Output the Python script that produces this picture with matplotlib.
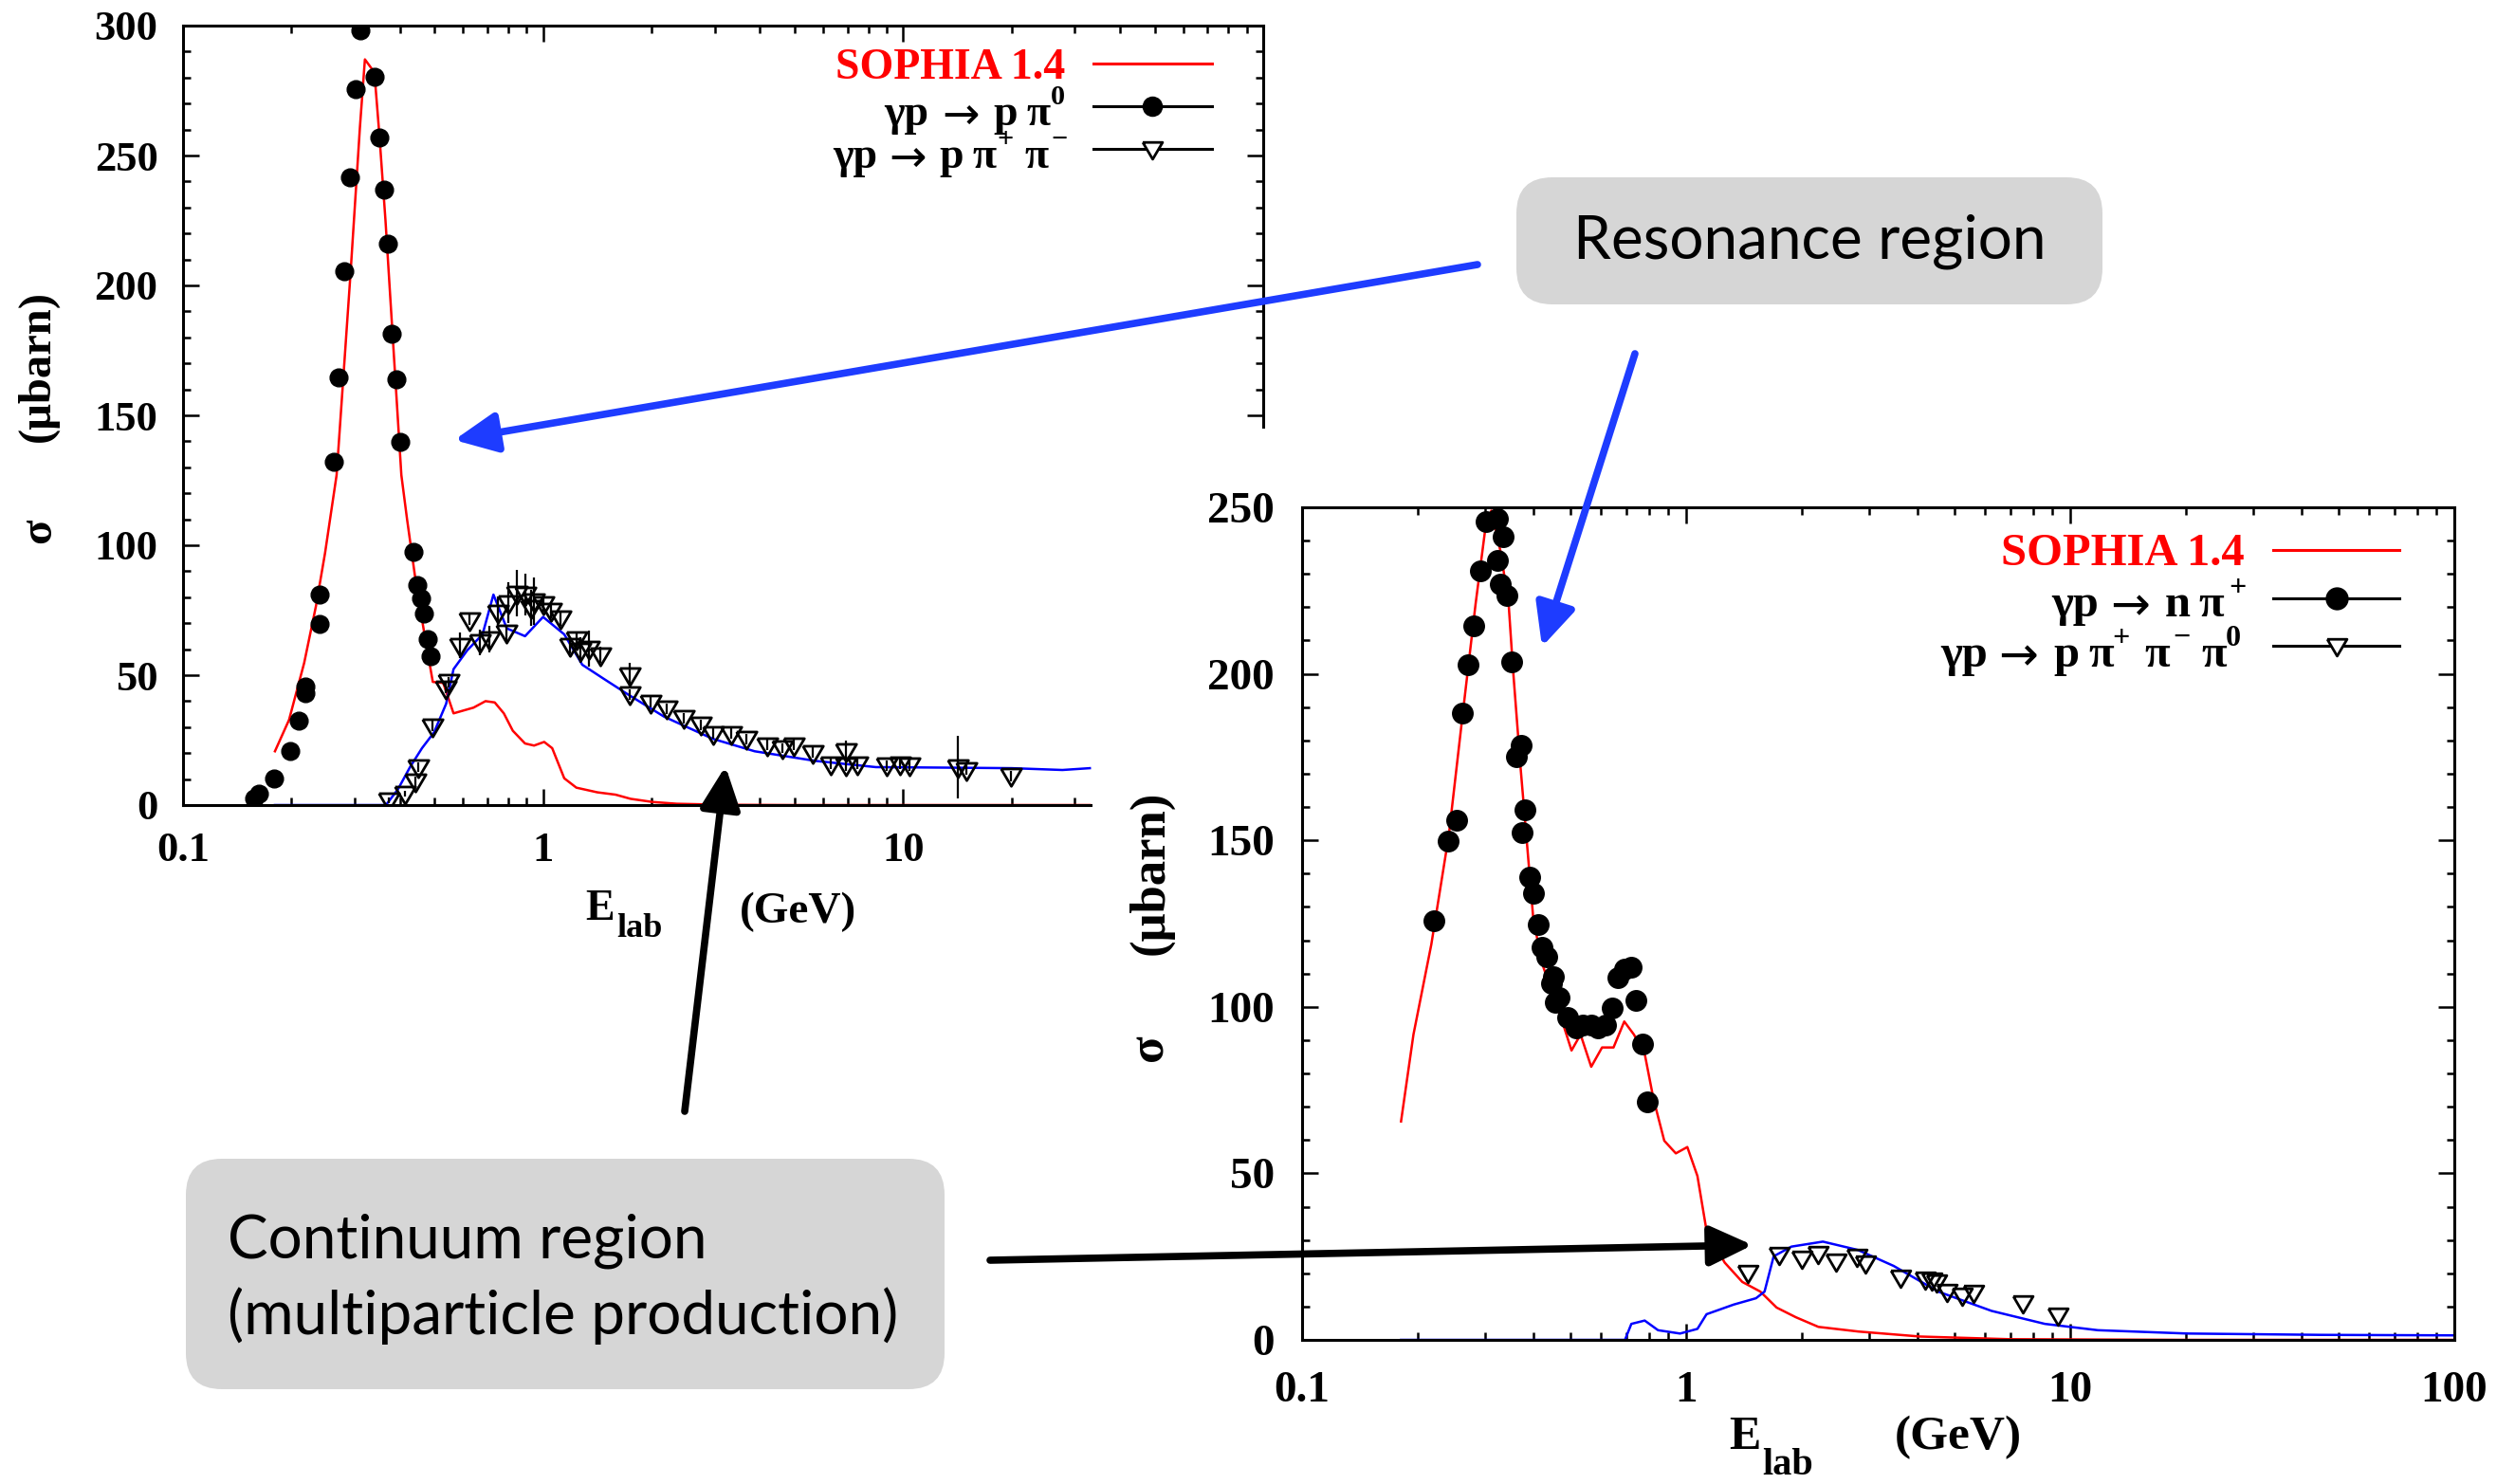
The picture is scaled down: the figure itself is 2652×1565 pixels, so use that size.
import matplotlib
matplotlib.use('Agg')
import matplotlib.pyplot as plt
import numpy as np
from matplotlib.patches import FancyBboxPatch, FancyArrowPatch, Rectangle
from matplotlib.lines import Line2D
from matplotlib.ticker import MultipleLocator, LogLocator, NullFormatter
from matplotlib.transforms import Affine2D

# ---- left panel: gamma p -> p pi0 and gamma p -> p pi+ pi- ----
sophia_ppi0_E = [0.180, 0.197, 0.217, 0.234, 0.248, 0.267, 0.292, 0.310, 0.320, 0.340, 0.351, 0.365,
                 0.384, 0.404, 0.419, 0.444, 0.470, 0.494, 0.528, 0.564, 0.641, 0.692, 0.734, 0.778,
                 0.824, 0.891, 0.944, 1.007, 1.06, 1.145, 1.237, 1.415, 1.59, 1.75, 2.01, 2.35, 3.19,
                 5.0, 10.0, 20.0, 33.0]
sophia_ppi0_xs = [20.7, 32.8, 54.7, 76.6, 97, 127, 205, 261, 287, 282, 258, 225,
                  176, 127, 110, 85, 64.5, 47.4, 47, 35.3, 37.5, 40, 39.5, 35.3,
                  28.6, 23.7, 22.9, 24.3, 21.9, 10.3, 6.7, 4.9, 4.0, 2.4, 1.2, 0.5, 0.1,
                  0, 0, 0, 0]
sophia_ppipi_E = [0.180, 0.366, 0.395, 0.427, 0.461, 0.498, 0.538, 0.564, 0.616, 0.679, 0.728, 0.793,
                  0.891, 1.0, 1.145, 1.285, 1.47, 1.72, 2.17, 2.96, 3.87, 5.70, 8.4, 13.3, 20.0, 27.7, 33.0]
sophia_ppipi_xs = [0, 0, 6, 14.6, 21.9, 28, 39, 52.3, 59.6, 65.7, 81, 68,
                   65, 72.4, 65.7, 54, 48.7, 42.6, 34, 25.5, 20.7, 17, 14.6, 14.4, 14.2, 13.5, 14.2]
data_ppi0_E = [0.158, 0.162, 0.179, 0.198, 0.210, 0.218, 0.219, 0.239, 0.239, 0.262, 0.270, 0.281,
               0.290, 0.301, 0.310, 0.341, 0.351, 0.361, 0.371, 0.380, 0.392, 0.401, 0.436, 0.447,
               0.458, 0.467, 0.478, 0.487]
data_ppi0_xs = [2.5, 4.5, 10.2, 20.7, 32.5, 43.2, 45.5, 69.8, 80.9, 132.2, 164.7, 205.6,
                241.5, 275.4, 298, 280.4, 257, 237, 216, 181.5, 163.9, 139.8, 97.3, 84.5,
                79.7, 73.6, 63.9, 57.2]
data_ppipi_E = [0.372, 0.414, 0.441, 0.449, 0.494, 0.538, 0.545, 0.586, 0.623, 0.667, 0.711, 0.748,
                0.793, 0.802, 0.847, 0.891, 0.925, 0.944, 1.0, 1.05, 1.12, 1.19, 1.24, 1.27, 1.34,
                1.44, 1.74, 1.74, 1.99, 2.21, 2.46, 2.74, 2.96, 3.32, 3.66, 4.19, 4.61, 4.98, 5.60,
                6.29, 6.92, 6.92, 7.48, 9.0, 9.8, 10.4, 14.2, 15.0, 19.9]
data_ppipi_xs = [1.8, 4.3, 9, 14.6, 30.4, 45, 47.4, 61.4, 71.2, 62.7, 63.9, 74.2,
                 66.3, 77.9, 81.5, 80.9, 76, 78.5, 77.3, 74.8, 71.8, 61.4, 63.9, 59.6, 60.2,
                 57.8, 49.9, 42.6, 39.5, 37.1, 33.5, 31, 27.4, 27.4, 25.5, 23.1, 21.9, 23.1, 20.1,
                 15.8, 20.7, 15.2, 15.8, 15.2, 15.8, 15.2, 14.6, 13.5, 11.2]
data_ppipi_err = [1, 1, 2, 2, 2, 2, 2, 5, 2, 5, 5, 6,
                  3, 8, 9, 8, 7, 9, 3, 3, 3, 3, 3, 5, 7,
                  3, 5, 2, 2, 2, 2, 2, 2, 2, 2, 2, 2, 2, 2,
                  2, 4, 2, 2, 2, 2, 2, 12, 2, 2]

# ---- right panel: gamma p -> n pi+ and gamma p -> p pi+ pi- pi0 ----
sophia_npip_E = [0.181, 0.195, 0.217, 0.241, 0.261, 0.283, 0.299, 0.311, 0.329, 0.345, 0.354, 0.370,
                 0.386, 0.400, 0.422, 0.457, 0.482, 0.503, 0.531, 0.566, 0.604, 0.647, 0.690, 0.731,
                 0.780, 0.822, 0.877, 0.940, 1.007, 1.07, 1.13, 1.26, 1.40, 1.56, 1.72, 1.93, 2.21,
                 2.81, 4.07, 6.95, 20.0, 100.0]
sophia_npip_xs = [65.6, 91.7, 118.7, 151.5, 186.3, 221, 242.3, 249, 236.5, 221, 201.7, 172.8,
                  147.7, 126.4, 112.9, 101.4, 93.6, 86.9, 91.7, 82, 87.8, 87.8, 95.6, 91.7,
                  85.9, 72.4, 59.8, 56, 57.9, 49.2, 32.8, 23.2, 17.4, 14.5, 9.7, 6.8, 3.9,
                  2.5, 1.0, 0.2, 0, 0]
sophia_3pi_E = [0.181, 0.693, 0.720, 0.780, 0.845, 0.964, 1.07, 1.13, 1.33, 1.52, 1.60, 1.69,
                1.88, 2.27, 2.80, 3.47, 4.53, 6.24, 8.59, 11.8, 20.2, 44.9, 100]
sophia_3pi_xs = [0, 0, 4.8, 5.8, 2.9, 1.9, 3.3, 7.7, 10.6, 12.5, 14.5, 25.1,
                 28, 29.5, 27, 22.2, 14.5, 8.7, 4.8, 2.9, 1.9, 1.5, 1.35]
data_npip_E = [0.220, 0.240, 0.252, 0.261, 0.270, 0.280, 0.291, 0.302, 0.322, 0.323, 0.329, 0.334,
               0.341, 0.352, 0.362, 0.371, 0.375, 0.381, 0.392, 0.400, 0.411, 0.422, 0.433, 0.445,
               0.450, 0.457, 0.467, 0.490, 0.516, 0.537, 0.566, 0.590, 0.616, 0.640, 0.664, 0.693,
               0.720, 0.739, 0.768, 0.792]
data_npip_xs = [125.9, 149.8, 156, 188.2, 202.7, 214.3, 231, 245.8, 234, 246.5, 226.8, 241.3,
                223.4, 203.5, 175.1, 178.6, 152.3, 159.1, 139, 134.2, 124.7, 117.8, 114.9, 107.1,
                109.1, 101.4, 102.9, 96.9, 93.6, 94.6, 94.6, 93.6, 94.6, 99.6, 108.7, 111.4,
                112, 101.9, 88.8, 71.4]
data_3pi_E = [1.45, 1.75, 2.00, 2.21, 2.45, 2.78, 2.93, 3.62, 4.19, 4.37, 4.49, 4.78, 5.23, 5.61, 7.52, 9.30]
data_3pi_xs = [20.3, 25.5, 24.5, 26, 23.7, 25.1, 23.2, 18.7, 18.3, 17.8, 17.4, 14.5, 13.5, 14.1, 11.2, 7.3]

W, H = 2652, 1565
fig = plt.figure(figsize=(W / 100, H / 100), dpi=100)
# pixel coordinates measured from the top-left corner of the image
T = Affine2D().scale(1, -1).translate(0, H)

SERIF = ['Liberation Serif', 'DejaVu Serif']
SANS = 'Lato'
tri = [(-1, 0.7), (1, 0.7), (0, -1), (-1, 0.7)]


def px_axes(l, t, r, b):
    return fig.add_axes([l / W, 1 - b / H, (r - l) / W, (b - t) / H])


def setup(ax, ymax, fs, xpad, ypad, xlabels):
    ax.set_xscale('log')
    ax.set_xlim(0.1, 100)
    ax.set_ylim(0, ymax)
    ax.set_xticks([0.1, 1, 10, 100])
    ax.set_xticklabels(xlabels)
    ax.xaxis.set_minor_locator(LogLocator(base=10, subs=np.arange(2, 10)))
    ax.xaxis.set_minor_formatter(NullFormatter())
    ax.yaxis.set_major_locator(MultipleLocator(50))
    ax.yaxis.set_minor_locator(MultipleLocator(10))
    ax.tick_params(which='both', direction='in', top=True, right=True, width=1.8)
    ax.tick_params(which='major', length=12)
    ax.tick_params(which='minor', length=6)
    ax.tick_params(axis='x', which='major', pad=xpad)
    ax.tick_params(axis='y', which='major', pad=ypad)
    for lab in ax.get_xticklabels() + ax.get_yticklabels():
        lab.set_fontfamily(SERIF)
        lab.set_fontweight('bold')
        lab.set_fontsize(fs)
    for s in ax.spines.values():
        s.set_linewidth(2.2)


def txt(x, y, s, size, color='black', ha='left', va='baseline', family=SERIF, weight='bold', rot=0, z=4):
    fig.text(x, y, s, transform=T, fontsize=size, color=color, ha=ha, va=va,
             family=family, fontweight=weight, rotation=rot, zorder=z)


# left panel
ax1 = px_axes(193, 27, 1332, 849)
ax1.set_zorder(1)
ax1.plot(sophia_ppi0_E, sophia_ppi0_xs, color='red', lw=1.8)
ax1.plot(sophia_ppipi_E, sophia_ppipi_xs, color='blue', lw=1.8)
ax1.plot(data_ppi0_E, data_ppi0_xs, 'o', color='black', ms=13.5)
ax1.errorbar(data_ppipi_E, data_ppipi_xs, yerr=data_ppipi_err, fmt='none', ecolor='black', elinewidth=1.6)
ax1.plot(data_ppipi_E, data_ppipi_xs, ls='none', marker=tri, ms=15.5, mfc='none', mec='black', mew=2)
setup(ax1, 300, 32, 20, 19, ['0.1', '1', '10', ''])

# white area of the second picture pasted over the first one
fig.add_artist(Rectangle((1152, 452), 1600, 1200, transform=T, facecolor='white', edgecolor='none', zorder=2))

# right panel
ax2 = px_axes(1373, 535, 2588, 1413)
ax2.set_zorder(3)
ax2.plot(sophia_npip_E, sophia_npip_xs, color='red', lw=1.8)
ax2.plot(sophia_3pi_E, sophia_3pi_xs, color='blue', lw=1.8)
ax2.plot(data_npip_E, data_npip_xs, 'o', color='black', ms=15.5)
ax2.plot(data_3pi_E, data_3pi_xs, ls='none', marker=tri, ms=15, mfc='none', mec='black', mew=2)
setup(ax2, 250, 34, 24, 21, ['0.1', '1', '10', '100'])

# axis labels
txt(40, 386, '(μbarn)', 35, ha='center', va='center', rot=90)
txt(41, 560, 'σ', 35, ha='center', va='center', rot=90)
txt(617, 970, 'E', 33)
txt(650, 988, 'lab', 26)
txt(780, 973, '(GeV)', 34)

txt(1213, 920, '(μbarn)', 38, ha='center', va='center', rot=90)
txt(1213, 1105, 'σ', 38, ha='center', va='center', rot=90)
txt(1823, 1528, 'E', 36)
txt(1858, 1555, 'lab', 29)
txt(1998, 1528, '(GeV)', 37)


# legends
def sample(x0, x1, y, color, marker=None, mx=None, ms=12):
    fig.add_artist(Line2D([x0, x1], [y, y], transform=T, color=color, lw=2.2, zorder=4))
    if marker is not None:
        fig.add_artist(Line2D([mx], [y], transform=T, ls='none', marker=marker, ms=ms,
                              color='black', mfc='black' if marker == 'o' else 'white',
                              mec='black', mew=2, zorder=4))


def entry(base, size, parts):
    # parts: (x, text, kind) with kind 'n' normal, 'a' arrow, 's' superscript
    for x, s, kind in parts:
        if kind == 'a':
            txt(x, base + 4, '→', size + 1, family='DejaVu Sans', weight='normal')
        elif kind == 's':
            txt(x, base - 22, s, size * 0.66)
        else:
            txt(x, base, s, size)


txt(1123, 83, 'SOPHIA 1.4', 33, color='red', ha='right')
entry(132, 33, [(932, 'γp', 'n'), (993, '', 'a'), (1047, 'p', 'n'), (1082, 'π', 'n'), (1108, '0', 's')])
entry(177, 33, [(878, 'γp', 'n'), (937, '', 'a'), (990, 'p', 'n'), (1025, 'π', 'n'), (1051, '+', 's'),
                (1080, 'π', 'n'), (1108, '−', 's')])
sample(1153, 1278, 67, 'red')
sample(1153, 1278, 112, 'black', 'o', 1215, 13.5)
sample(1153, 1278, 157, 'black', tri, 1215, 15)

txt(2367, 596, 'SOPHIA 1.4', 35, color='red', ha='right')
entry(650, 35, [(2163, 'γp', 'n'), (2225, '', 'a'), (2283, 'n', 'n'), (2318, 'π', 'n'), (2350, '+', 's')])
entry(703, 35, [(2046, 'γp', 'n'), (2107, '', 'a'), (2165, 'p', 'n'), (2202, 'π', 'n'), (2227, '+', 's'),
                (2261, 'π', 'n'), (2291, '−', 's'), (2321, 'π', 'n'), (2347, '0', 's')])
sample(2397, 2530, 580, 'red')
sample(2397, 2530, 631, 'black', 'o', 2464, 15.5)
sample(2397, 2530, 681, 'black', tri, 2464, 15)

# annotation boxes
box_col = '#d6d6d6'
for (l, t, r, b) in [(1599, 187, 2217, 321), (196, 1222, 996, 1465)]:
    fig.add_artist(FancyBboxPatch((l, t), r - l, b - t, boxstyle='round,pad=0,rounding_size=38',
                                  transform=T, facecolor=box_col, edgecolor='none', zorder=5))
txt(1908, 272, 'Resonance region', 46, ha='center', family=SANS, weight='normal', z=6)
txt(240, 1327, 'Continuum region', 46, family=SANS, weight='normal', z=6)
txt(240, 1407, '(multiparticle production)', 46, family=SANS, weight='normal', z=6)

# arrows
arrows = [((1558, 279), (479, 464), '#1e3cff'),
          ((1724, 373), (1626, 682), '#1e3cff'),
          ((722, 1172), (765, 808), 'black'),
          ((1044, 1329), (1848, 1313), 'black')]
for tail, head, col in arrows:
    fig.add_artist(FancyArrowPatch(tail, head, transform=T, arrowstyle='-|>,head_length=1.7,head_width=0.8',
                                   mutation_scale=16, color=col, lw=5.5, shrinkA=0, shrinkB=0, zorder=7))

fig.savefig('out.png', dpi=100)
